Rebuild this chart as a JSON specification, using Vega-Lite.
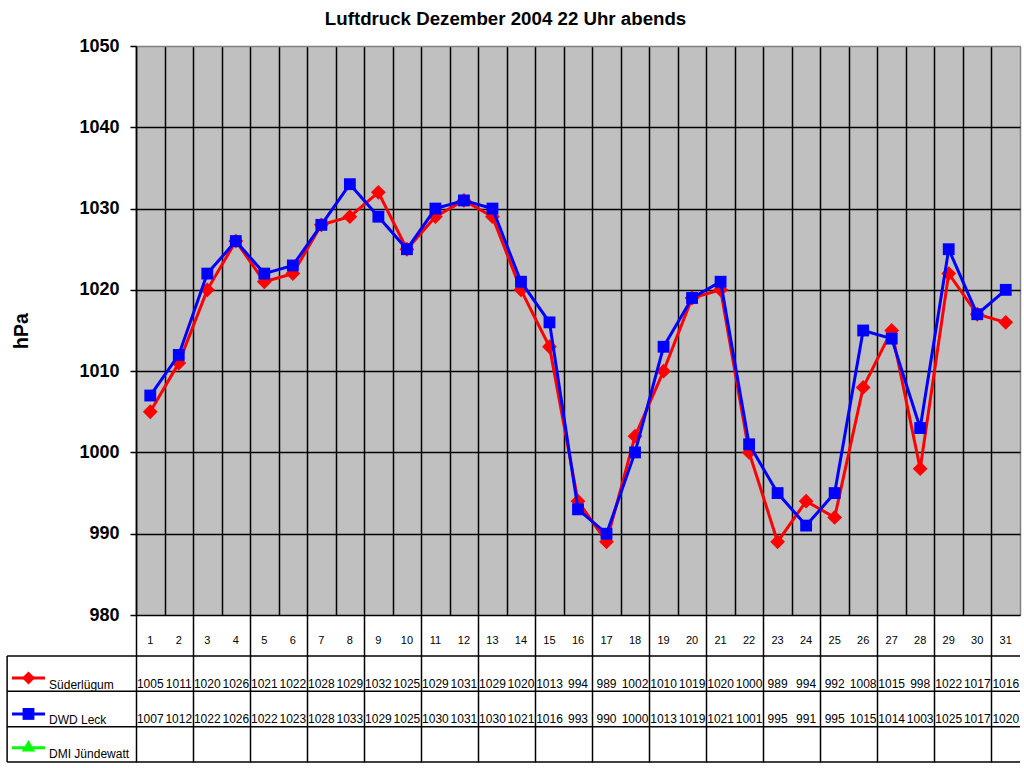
{
  "$schema": "https://vega.github.io/schema/vega-lite/v6.json",
  "background": "#FFFFFF",
  "padding": {"left": 6, "top": 9, "right": 4, "bottom": 4},
  "title": {"text": "Luftdruck Dezember 2004 22 Uhr abends", "font": "Liberation Sans", "fontSize": 18.7, "fontWeight": "bold", "color": "#000000", "anchor": "middle", "offset": 8, "dx": -8},
  "datasets": {
    "p": [
      {"day":1,"station":"Süderlügum","hPa":1005},{"day":2,"station":"Süderlügum","hPa":1011},{"day":3,"station":"Süderlügum","hPa":1020},{"day":4,"station":"Süderlügum","hPa":1026},{"day":5,"station":"Süderlügum","hPa":1021},{"day":6,"station":"Süderlügum","hPa":1022},{"day":7,"station":"Süderlügum","hPa":1028},{"day":8,"station":"Süderlügum","hPa":1029},{"day":9,"station":"Süderlügum","hPa":1032},{"day":10,"station":"Süderlügum","hPa":1025},{"day":11,"station":"Süderlügum","hPa":1029},{"day":12,"station":"Süderlügum","hPa":1031},{"day":13,"station":"Süderlügum","hPa":1029},{"day":14,"station":"Süderlügum","hPa":1020},{"day":15,"station":"Süderlügum","hPa":1013},{"day":16,"station":"Süderlügum","hPa":994},{"day":17,"station":"Süderlügum","hPa":989},{"day":18,"station":"Süderlügum","hPa":1002},{"day":19,"station":"Süderlügum","hPa":1010},{"day":20,"station":"Süderlügum","hPa":1019},{"day":21,"station":"Süderlügum","hPa":1020},{"day":22,"station":"Süderlügum","hPa":1000},{"day":23,"station":"Süderlügum","hPa":989},{"day":24,"station":"Süderlügum","hPa":994},{"day":25,"station":"Süderlügum","hPa":992},{"day":26,"station":"Süderlügum","hPa":1008},{"day":27,"station":"Süderlügum","hPa":1015},{"day":28,"station":"Süderlügum","hPa":998},{"day":29,"station":"Süderlügum","hPa":1022},{"day":30,"station":"Süderlügum","hPa":1017},{"day":31,"station":"Süderlügum","hPa":1016},
      {"day":1,"station":"DWD Leck","hPa":1007},{"day":2,"station":"DWD Leck","hPa":1012},{"day":3,"station":"DWD Leck","hPa":1022},{"day":4,"station":"DWD Leck","hPa":1026},{"day":5,"station":"DWD Leck","hPa":1022},{"day":6,"station":"DWD Leck","hPa":1023},{"day":7,"station":"DWD Leck","hPa":1028},{"day":8,"station":"DWD Leck","hPa":1033},{"day":9,"station":"DWD Leck","hPa":1029},{"day":10,"station":"DWD Leck","hPa":1025},{"day":11,"station":"DWD Leck","hPa":1030},{"day":12,"station":"DWD Leck","hPa":1031},{"day":13,"station":"DWD Leck","hPa":1030},{"day":14,"station":"DWD Leck","hPa":1021},{"day":15,"station":"DWD Leck","hPa":1016},{"day":16,"station":"DWD Leck","hPa":993},{"day":17,"station":"DWD Leck","hPa":990},{"day":18,"station":"DWD Leck","hPa":1000},{"day":19,"station":"DWD Leck","hPa":1013},{"day":20,"station":"DWD Leck","hPa":1019},{"day":21,"station":"DWD Leck","hPa":1021},{"day":22,"station":"DWD Leck","hPa":1001},{"day":23,"station":"DWD Leck","hPa":995},{"day":24,"station":"DWD Leck","hPa":991},{"day":25,"station":"DWD Leck","hPa":995},{"day":26,"station":"DWD Leck","hPa":1015},{"day":27,"station":"DWD Leck","hPa":1014},{"day":28,"station":"DWD Leck","hPa":1003},{"day":29,"station":"DWD Leck","hPa":1025},{"day":30,"station":"DWD Leck","hPa":1017},{"day":31,"station":"DWD Leck","hPa":1020}
    ],
    "stations": [
      {"station":"Süderlügum"},{"station":"DWD Leck"},{"station":"DMI Jündewatt"}
    ]
  },
  "spacing": 0,
  "bounds": "flush",
  "vconcat": [
    {
      "width": 884,
      "height": 569,
      "view": {"fill": "#C0C0C0", "stroke": "#808080", "strokeWidth": 1},
      "data": {"name": "p"},
      "encoding": {
        "x": {"field": "day", "type": "quantitative",
          "scale": {"domain": [0.5, 31.5], "nice": false, "zero": false},
          "axis": {"values": [0.5,1.5,2.5,3.5,4.5,5.5,6.5,7.5,8.5,9.5,10.5,11.5,12.5,13.5,14.5,15.5,16.5,17.5,18.5,19.5,20.5,21.5,22.5,23.5,24.5,25.5,26.5,27.5,28.5,29.5,30.5,31.5],
            "grid": true, "gridColor": {"condition": {"test": "datum.value === 31.5", "value": "#808080"}, "value": "#000000"}, "gridOpacity": 1, "gridWidth": 1.5,
            "labels": false, "ticks": false, "domain": false, "title": null, "minExtent": 0, "maxExtent": 0, "offset": 0}},
        "y": {"field": "hPa", "type": "quantitative",
          "scale": {"domain": [980, 1050], "nice": false, "zero": false},
          "axis": {"values": [980,990,1000,1010,1020,1030,1040,1050], "format": "d",
            "grid": true, "gridColor": {"condition": {"test": "datum.value === 1050", "value": "#808080"}, "value": "#000000"}, "gridOpacity": 1, "gridWidth": 1.5,
            "domain": true, "domainColor": "#000000", "domainWidth": 1.5,
            "ticks": true, "tickColor": "#000000", "tickSize": 6, "tickWidth": 1.5,
            "labelFont": "Liberation Sans", "labelFontSize": 18, "labelFontWeight": "bold", "labelColor": "#000000", "labelPadding": 11,
            "title": "hPa", "titleFont": "Liberation Sans", "titleFontSize": 19.5, "titleFontWeight": "bold", "titleColor": "#000000", "titlePadding": 47}}
      },
      "layer": [
        {"transform": [{"filter": "datum.station === 'Süderlügum'"}], "mark": {"type": "line", "color": "#FF0000", "strokeWidth": 3}},
        {"transform": [{"filter": "datum.station === 'Süderlügum'"}], "mark": {"type": "point", "shape": "diamond", "filled": true, "color": "#FF0000", "opacity": 1, "size": 220}},
        {"transform": [{"filter": "datum.station === 'DWD Leck'"}], "mark": {"type": "line", "color": "#0000FF", "strokeWidth": 3}},
        {"transform": [{"filter": "datum.station === 'DWD Leck'"}], "mark": {"type": "point", "shape": "square", "filled": true, "color": "#0000FF", "opacity": 1, "size": 140}}
      ]
    },
    {
      "width": 884,
      "height": 147,
      "view": {"stroke": null},
      "layer": [
        {"data": {"name": "p"}, "transform": [{"filter": "datum.station === 'Süderlügum'"}],
         "mark": {"type": "text", "font": "Liberation Sans", "fontSize": 11, "color": "#000000", "baseline": "middle", "align": "center"},
         "encoding": {
           "x": {"field": "day", "type": "quantitative",
             "scale": {"domain": [0.5, 31.5], "nice": false, "zero": false},
             "axis": {"values": [0.5,1.5,2.5,3.5,4.5,5.5,6.5,7.5,8.5,9.5,10.5,11.5,12.5,13.5,14.5,15.5,16.5,17.5,18.5,19.5,20.5,21.5,22.5,23.5,24.5,25.5,26.5,27.5,28.5,29.5,30.5,31.5],
               "grid": true, "gridColor": "#000000", "gridOpacity": 1, "gridWidth": 1.5,
               "labels": false, "ticks": false, "domain": false, "title": null, "minExtent": 0, "maxExtent": 0}},
           "y": {"datum": 0.74, "type": "quantitative", "scale": {"domain": [0, 4.16], "nice": false, "zero": false, "reverse": true}, "axis": null},
           "text": {"field": "day"}}},
        {"data": {"name": "p"}, "transform": [{"filter": "datum.station === 'Süderlügum'"}],
         "mark": {"type": "text", "font": "Liberation Sans", "fontSize": 12, "color": "#000000", "baseline": "middle", "align": "center"},
         "encoding": {"x": {"field": "day", "type": "quantitative"}, "y": {"datum": 1.95, "type": "quantitative"}, "text": {"field": "hPa"}}},
        {"data": {"name": "p"}, "transform": [{"filter": "datum.station === 'DWD Leck'"}],
         "mark": {"type": "text", "font": "Liberation Sans", "fontSize": 12, "color": "#000000", "baseline": "middle", "align": "center"},
         "encoding": {"x": {"field": "day", "type": "quantitative"}, "y": {"datum": 2.95, "type": "quantitative"}, "text": {"field": "hPa"}}},
        {"data": {"name": "stations"}, "transform": [{"filter": "datum.station === 'Süderlügum'"}], "mark": {"type": "rule", "color": "#000000", "strokeWidth": 1.5},
         "encoding": {"x": {"datum": -4.02, "type": "quantitative"}, "x2": {"datum": 31.5}, "y": {"datum": 1.16, "type": "quantitative"}}},
        {"data": {"name": "stations"}, "transform": [{"filter": "datum.station === 'Süderlügum'"}], "mark": {"type": "rule", "color": "#000000", "strokeWidth": 1.5},
         "encoding": {"x": {"datum": -4.02, "type": "quantitative"}, "x2": {"datum": 31.5}, "y": {"datum": 2.16, "type": "quantitative"}}},
        {"data": {"name": "stations"}, "transform": [{"filter": "datum.station === 'Süderlügum'"}], "mark": {"type": "rule", "color": "#000000", "strokeWidth": 1.5},
         "encoding": {"x": {"datum": -4.02, "type": "quantitative"}, "x2": {"datum": 31.5}, "y": {"datum": 3.16, "type": "quantitative"}}},
        {"data": {"name": "stations"}, "transform": [{"filter": "datum.station === 'Süderlügum'"}], "mark": {"type": "rule", "color": "#000000", "strokeWidth": 1.5},
         "encoding": {"x": {"datum": -4.02, "type": "quantitative"}, "x2": {"datum": 31.5}, "y": {"datum": 4.16, "type": "quantitative"}}},
        {"data": {"name": "stations"}, "transform": [{"filter": "datum.station === 'Süderlügum'"}], "mark": {"type": "rule", "color": "#000000", "strokeWidth": 1.5},
         "encoding": {"x": {"datum": -4.02, "type": "quantitative"}, "y": {"datum": 1.16, "type": "quantitative"}, "y2": {"datum": 4.16}}},
        {"data": {"name": "stations"}, "transform": [{"filter": "datum.station === 'Süderlügum'"}], "mark": {"type": "rule", "color": "#FF0000", "strokeWidth": 3},
         "encoding": {"x": {"datum": -3.85, "type": "quantitative"}, "x2": {"datum": -2.69}, "y": {"datum": 1.78, "type": "quantitative"}}},
        {"data": {"name": "stations"}, "transform": [{"filter": "datum.station === 'Süderlügum'"}], "mark": {"type": "point", "shape": "diamond", "filled": true, "opacity": 1, "color": "#FF0000", "size": 170},
         "encoding": {"x": {"datum": -3.27, "type": "quantitative"}, "y": {"datum": 1.78, "type": "quantitative"}}},
        {"data": {"name": "stations"}, "transform": [{"filter": "datum.station === 'Süderlügum'"}], "mark": {"type": "text", "font": "Liberation Sans", "fontSize": 12, "color": "#000000", "align": "left", "baseline": "middle"},
         "encoding": {"x": {"datum": -2.55, "type": "quantitative"}, "y": {"datum": 1.98, "type": "quantitative"}, "text": {"field": "station"}}},
        {"data": {"name": "stations"}, "transform": [{"filter": "datum.station === 'DWD Leck'"}], "mark": {"type": "rule", "color": "#0000FF", "strokeWidth": 3},
         "encoding": {"x": {"datum": -3.85, "type": "quantitative"}, "x2": {"datum": -2.69}, "y": {"datum": 2.8, "type": "quantitative"}}},
        {"data": {"name": "stations"}, "transform": [{"filter": "datum.station === 'DWD Leck'"}], "mark": {"type": "point", "shape": "square", "filled": true, "opacity": 1, "color": "#0000FF", "size": 140},
         "encoding": {"x": {"datum": -3.27, "type": "quantitative"}, "y": {"datum": 2.8, "type": "quantitative"}}},
        {"data": {"name": "stations"}, "transform": [{"filter": "datum.station === 'DWD Leck'"}], "mark": {"type": "text", "font": "Liberation Sans", "fontSize": 12, "color": "#000000", "align": "left", "baseline": "middle"},
         "encoding": {"x": {"datum": -2.55, "type": "quantitative"}, "y": {"datum": 2.97, "type": "quantitative"}, "text": {"field": "station"}}},
        {"data": {"name": "stations"}, "transform": [{"filter": "datum.station === 'DMI Jündewatt'"}], "mark": {"type": "rule", "color": "#00FF00", "strokeWidth": 3},
         "encoding": {"x": {"datum": -3.85, "type": "quantitative"}, "x2": {"datum": -2.69}, "y": {"datum": 3.76, "type": "quantitative"}}},
        {"data": {"name": "stations"}, "transform": [{"filter": "datum.station === 'DMI Jündewatt'"}], "mark": {"type": "point", "shape": "triangle-up", "filled": true, "opacity": 1, "color": "#00FF00", "size": 180},
         "encoding": {"x": {"datum": -3.27, "type": "quantitative"}, "y": {"datum": 3.7, "type": "quantitative"}}},
        {"data": {"name": "stations"}, "transform": [{"filter": "datum.station === 'DMI Jündewatt'"}], "mark": {"type": "text", "font": "Liberation Sans", "fontSize": 12, "color": "#000000", "align": "left", "baseline": "middle"},
         "encoding": {"x": {"datum": -2.55, "type": "quantitative"}, "y": {"datum": 3.93, "type": "quantitative"}, "text": {"field": "station"}}}
      ]
    }
  ]
}
